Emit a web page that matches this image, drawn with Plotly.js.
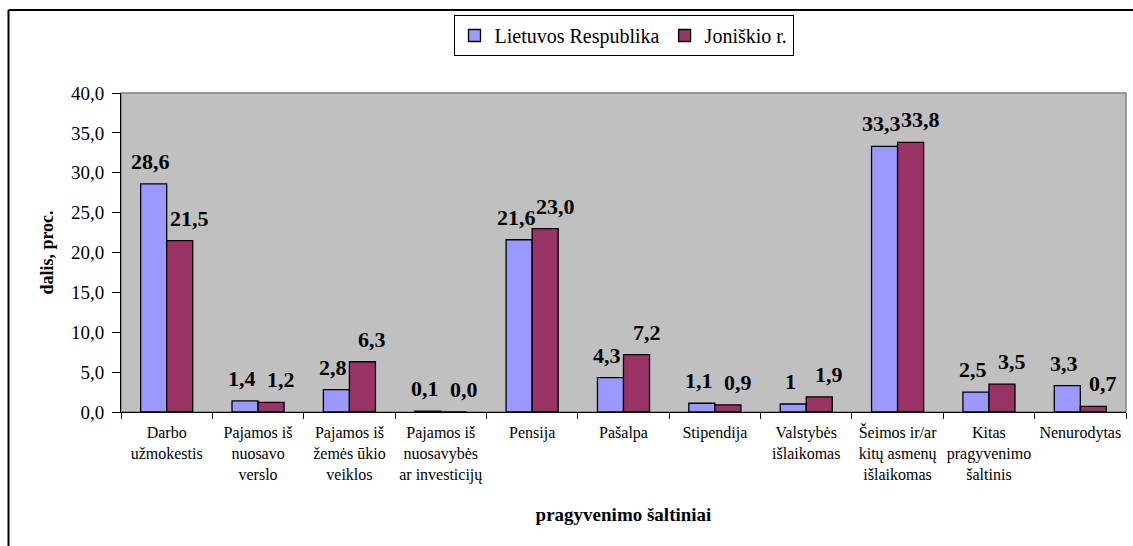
<!DOCTYPE html>
<html>
<head>
<meta charset="utf-8">
<script src="https://cdn.plot.ly/plotly-3.0.1.min.js"></script>
<style>html,body{margin:0;padding:0;background:#fff;}#chart{width:1133px;height:546px;}</style>
</head>
<body>
<div id="chart"></div>
<script>
// ---- data ----
const categories = [
  "Darbo<br>užmokestis",
  "Pajamos iš<br>nuosavo<br>verslo",
  "Pajamos iš<br>žemės ūkio<br>veiklos",
  "Pajamos iš<br>nuosavybės<br>ar investicijų",
  "Pensija",
  "Pašalpa",
  "Stipendija",
  "Valstybės<br>išlaikomas",
  "Šeimos ir/ar<br>kitų asmenų<br>išlaikomas",
  "Kitas<br>pragyvenimo<br>šaltinis",
  "Nenurodytas"
];
const seriesNames = ["Lietuvos Respublika", "Joniškio r."];
const lrValues = [28.6, 1.4, 2.8, 0.1, 21.6, 4.3, 1.1, 1.0, 33.3, 2.5, 3.3];
const jrValues = [21.5, 1.2, 6.3, 0.0, 23.0, 7.2, 0.9, 1.9, 33.8, 3.5, 0.7];
const lrLabels = ["28,6","1,4","2,8","0,1","21,6","4,3","1,1","1","33,3","2,5","3,3"];
const jrLabels = ["21,5","1,2","6,3","0,0","23,0","7,2","0,9","1,9","33,8","3,5","0,7"];
const yTickVals = [0,5,10,15,20,25,30,35,40];

// ---- layout constants ----
const FONT = "Liberation Serif";
const W = 1133, H = 546;
const M = {l:121, r:7, t:93, b:134};
const pw = W - M.l - M.r, ph = H - M.t - M.b;
const px2x = v => (v - M.l) / pw;
const px2y = v => (H - M.b - v) / ph;
const bargap = 0.43;
const half = (1 - bargap) / 4;

const barLine = {color:"#000", width:1.3};
const traces = [
  {type:"bar", name:seriesNames[0], x:categories, y:lrValues,
   marker:{color:"#9999FF", line:barLine}, hoverinfo:"none"},
  {type:"bar", name:seriesNames[1], x:categories, y:jrValues,
   marker:{color:"#993366", line:barLine}, hoverinfo:"none"}
];

const labelFont = {family:FONT, size:22, color:"#000"};
const annotations = [];
categories.forEach((c, i) => {
  annotations.push({x:i - half, y:lrValues[i], xref:"x", yref:"y", text:"<b>"+lrLabels[i]+"</b>",
    showarrow:false, yanchor:"bottom", yshift:8, xshift:-3, font:labelFont});
  annotations.push({x:i + half, y:jrValues[i], xref:"x", yref:"y", text:"<b>"+jrLabels[i]+"</b>",
    showarrow:false, yanchor:"bottom", yshift:8, xshift:10, font:labelFont});
});

const shapes = [
  {type:"rect", xref:"paper", yref:"paper", x0:0, x1:1, y0:0, y1:1,
   line:{color:"#808080", width:1.5}, layer:"below"},
  {type:"line", xref:"paper", yref:"paper", x0:px2x(8.5), x1:px2x(W+5), y0:px2y(10), y1:px2y(10),
   line:{color:"#000", width:2}},
  {type:"line", xref:"paper", yref:"paper", x0:px2x(8.5), x1:px2x(8.5), y0:px2y(10), y1:px2y(H+5),
   line:{color:"#000", width:2}}
];

const layout = {
  width:W, height:H,
  margin:M,
  paper_bgcolor:"#fff",
  plot_bgcolor:"#C0C0C0",
  separators:", ",
  font:{family:FONT, color:"#000", size:16},
  barmode:"group",
  bargap:bargap,
  bargroupgap:0,
  showlegend:true,
  legend:{orientation:"h", x:0.5, xanchor:"center", y:px2y(15), yanchor:"top",
    bordercolor:"#000", borderwidth:1, bgcolor:"#fff",
    font:{family:FONT, size:20}, traceorder:"normal", itemwidth:20},
  xaxis:{type:"category", tickson:"boundaries", ticks:"outside", ticklen:6, tickcolor:"#000",
    showline:true, linecolor:"#000", linewidth:1, showgrid:false, zeroline:false,
    tickangle:0, tickfont:{family:FONT, size:16}, ticklabelstandoff:6,
    title:{text:"<b>pragyvenimo šaltiniai</b>", font:{family:FONT, size:19}, standoff:24}},
  yaxis:{range:[0,40], tickvals:yTickVals, tickformat:".1f", ticks:"outside", ticklen:8, tickcolor:"#000",
    showline:true, linecolor:"#000", linewidth:1, showgrid:false, zeroline:false,
    tickfont:{family:FONT, size:19}, ticklabelstandoff:4,
    title:{text:"<b>dalis, proc.</b>", font:{family:FONT, size:18}, standoff:12}},
  annotations:annotations,
  shapes:shapes
};

Plotly.newPlot("chart", traces, layout, {staticPlot:true, displayModeBar:false});
</script>
</body>
</html>
